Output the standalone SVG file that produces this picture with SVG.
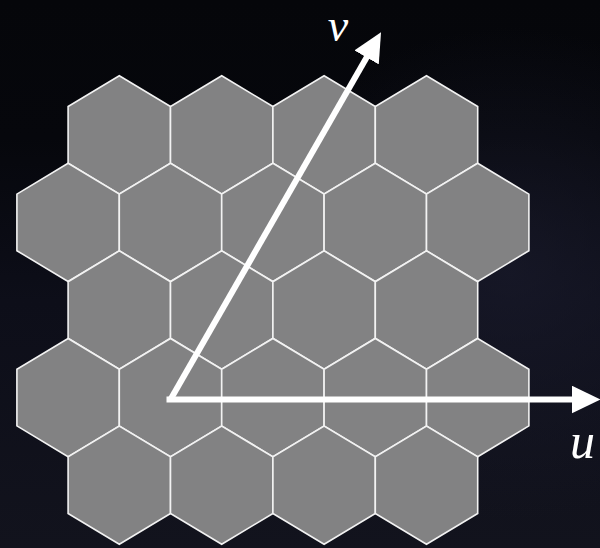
<svg xmlns="http://www.w3.org/2000/svg" xmlns:xlink="http://www.w3.org/1999/xlink" width="600" height="548" viewBox="0 0 600 548">
  <style>
    .hex { fill: #828283; stroke: #f2f2f2; stroke-width: 1.6; stroke-linejoin: miter; }
    .axis { fill: none; stroke: #ffffff; stroke-width: 6; stroke-linecap: butt; }
    .lbl { font-family: "Liberation Serif", "DejaVu Serif", serif; font-style: italic; fill: #ffffff; text-anchor: middle; }
  </style>
  <defs>
    <linearGradient id="bg" x1="0" y1="0" x2="0" y2="1">
      <stop offset="0" stop-color="#05060a"/>
      <stop offset="0.25" stop-color="#06070c"/>
      <stop offset="0.55" stop-color="#0d0e19"/>
      <stop offset="1" stop-color="#12131d"/>
    </linearGradient>
    <radialGradient id="glow" cx="0.85" cy="0.5" r="0.45">
      <stop offset="0" stop-color="#1a1b2c" stop-opacity="0.7"/>
      <stop offset="1" stop-color="#1a1b2c" stop-opacity="0"/>
    </radialGradient>
    <polygon id="hex" points="0,-59.1 51.2,-28.3 51.2,28.3 0,59.1 -51.2,28.3 -51.2,-28.3"/>
    <marker id="head" viewBox="0 0 29 28" refX="2" refY="14" markerWidth="29" markerHeight="28" markerUnits="userSpaceOnUse" orient="auto">
      <path d="M0,0 L29,14 L0,28 Z" fill="#ffffff"/>
    </marker>
  </defs>
  <rect width="600" height="548" fill="url(#bg)"/>
  <rect width="600" height="548" fill="url(#glow)"/>

  <g id="row0">
    <g id="hex-0-0"><use href="#hex" class="hex" x="119.3" y="134.8"/></g>
    <g id="hex-0-1"><use href="#hex" class="hex" x="221.7" y="134.8"/></g>
    <g id="hex-0-2"><use href="#hex" class="hex" x="324.1" y="134.8"/></g>
    <g id="hex-0-3"><use href="#hex" class="hex" x="426.5" y="134.8"/></g>
  </g>
  <g id="row1">
    <g id="hex-1-0"><use href="#hex" class="hex" x="68.1" y="222.4"/></g>
    <g id="hex-1-1"><use href="#hex" class="hex" x="170.5" y="222.4"/></g>
    <g id="hex-1-2"><use href="#hex" class="hex" x="272.9" y="222.4"/></g>
    <g id="hex-1-3"><use href="#hex" class="hex" x="375.3" y="222.4"/></g>
    <g id="hex-1-4"><use href="#hex" class="hex" x="477.7" y="222.4"/></g>
  </g>
  <g id="row2">
    <g id="hex-2-0"><use href="#hex" class="hex" x="119.3" y="310.0"/></g>
    <g id="hex-2-1"><use href="#hex" class="hex" x="221.7" y="310.0"/></g>
    <g id="hex-2-2"><use href="#hex" class="hex" x="324.1" y="310.0"/></g>
    <g id="hex-2-3"><use href="#hex" class="hex" x="426.5" y="310.0"/></g>
  </g>
  <g id="row3">
    <g id="hex-3-0"><use href="#hex" class="hex" x="68.1" y="397.6"/></g>
    <g id="hex-3-1"><use href="#hex" class="hex" x="170.5" y="397.6"/></g>
    <g id="hex-3-2"><use href="#hex" class="hex" x="272.9" y="397.6"/></g>
    <g id="hex-3-3"><use href="#hex" class="hex" x="375.3" y="397.6"/></g>
    <g id="hex-3-4"><use href="#hex" class="hex" x="477.7" y="397.6"/></g>
  </g>
  <g id="row4">
    <g id="hex-4-0"><use href="#hex" class="hex" x="119.3" y="485.2"/></g>
    <g id="hex-4-1"><use href="#hex" class="hex" x="221.7" y="485.2"/></g>
    <g id="hex-4-2"><use href="#hex" class="hex" x="324.1" y="485.2"/></g>
    <g id="hex-4-3"><use href="#hex" class="hex" x="426.5" y="485.2"/></g>
  </g>

  <g id="connectors">
    <path id="axis-u" class="axis" d="M166.5,399.5 H573.5" marker-end="url(#head)"/>
    <path id="axis-v" class="axis" d="M170.5,399.5 L367.6,55.7" marker-end="url(#head)"/>
  </g>

  <g id="labels">
    <text id="label-v" class="lbl" x="338" y="41" font-size="46">v</text>
    <text id="label-u" class="lbl" x="582.5" y="458" font-size="50">u</text>
  </g>
</svg>
